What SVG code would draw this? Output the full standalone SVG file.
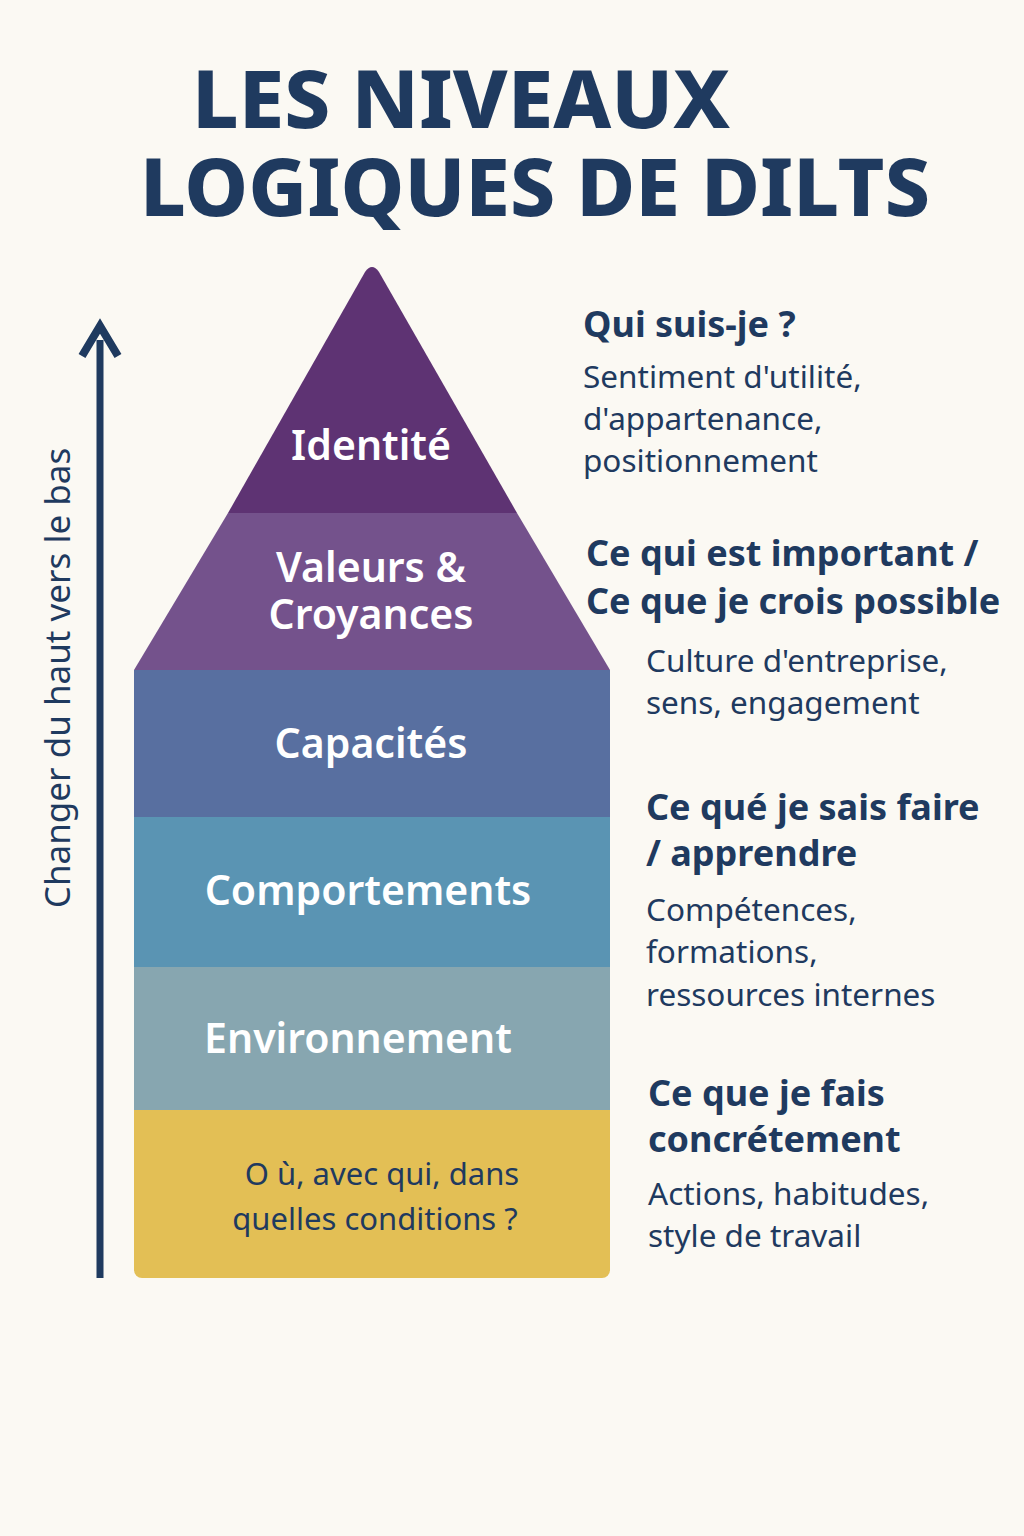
<svg xmlns="http://www.w3.org/2000/svg" width="1024" height="1536" viewBox="0 0 1024 1536">
<style>
.t{font-family:"Noto Sans","Open Sans",sans-serif;fill:#1f3a5f}
.lbl{font-family:"Noto Sans","Open Sans",sans-serif;fill:#fff;font-weight:600;font-size:41px;text-anchor:middle}
.h{font-weight:700;font-size:36px}
.b{font-size:31.5px}
</style>
<rect width="1024" height="1536" fill="#fbf9f3"/>
<g id="title" class="t" font-weight="800" font-size="80">
<text x="192" y="128" textLength="538" lengthAdjust="spacingAndGlyphs">LES NIVEAUX</text>
<text x="140" y="216" textLength="790" lengthAdjust="spacingAndGlyphs">LOGIQUES DE DILTS</text>
</g>
<g id="connectors">
<line x1="100" y1="1278" x2="100" y2="340" stroke="#1f3a5f" stroke-width="7"/>
<polyline points="82,356 100,326 118,356" fill="none" stroke="#1f3a5f" stroke-width="8" stroke-linejoin="miter"/>
</g>
<text class="t" font-size="35" transform="translate(70,678) rotate(-90)" text-anchor="middle">Changer du haut vers le bas</text>
<g id="environnement-base"><path d="M134,1110H610V1270a8,8 0 0 1-8,8H142a8,8 0 0 1-8-8Z" fill="#e3bf55"/>
<text class="t" font-size="31" text-anchor="middle" x="382" y="1185">O ù, avec qui, dans</text>
<text class="t" font-size="31" text-anchor="middle" x="375" y="1230">quelles conditions ?</text></g>
<g id="environnement"><rect x="134" y="967" width="476" height="143" fill="#87a6b0"/><text class="lbl" x="358" y="1053">Environnement</text></g>
<g id="comportements"><rect x="134" y="817" width="476" height="150" fill="#5a94b3"/><text class="lbl" x="368" y="905">Comportements</text></g>
<g id="capacites"><rect x="134" y="670" width="476" height="147" fill="#586fa0"/><text class="lbl" x="371" y="758">Capacités</text></g>
<g id="valeurs"><path d="M228,513H517L610,670H134Z" fill="#74528c"/><text class="lbl" x="371" y="582">Valeurs &amp;</text><text class="lbl" x="371" y="629">Croyances</text></g>
<g id="identite"><path d="M365,272Q372,262 379,272L517,513H228Z" fill="#5e3373"/><text class="lbl" x="371" y="460">Identité</text></g>
<g id="desc1" class="t"><text class="h" x="583" y="337">Qui suis-je ?</text>
<text class="b" x="583" y="388">Sentiment d'utilité,</text><text class="b" x="583" y="430">d'appartenance,</text><text class="b" x="583" y="472">positionnement</text></g>
<g id="desc2" class="t"><text class="h" x="586" y="566">Ce qui est important /</text><text class="h" x="586" y="614">Ce que je crois possible</text>
<text class="b" x="646" y="672">Culture d'entreprise,</text><text class="b" x="646" y="714">sens, engagement</text></g>
<g id="desc3" class="t"><text class="h" x="646" y="820">Ce qué je sais faire</text><text class="h" x="646" y="866">/ apprendre</text>
<text class="b" x="646" y="921">Compétences,</text><text class="b" x="646" y="963">formations,</text><text class="b" x="646" y="1006">ressources internes</text></g>
<g id="desc4" class="t"><text class="h" x="648" y="1106">Ce que je fais</text><text class="h" x="648" y="1152">concrétement</text>
<text class="b" x="648" y="1205">Actions, habitudes,</text><text class="b" x="648" y="1247">style de travail</text></g>
</svg>
